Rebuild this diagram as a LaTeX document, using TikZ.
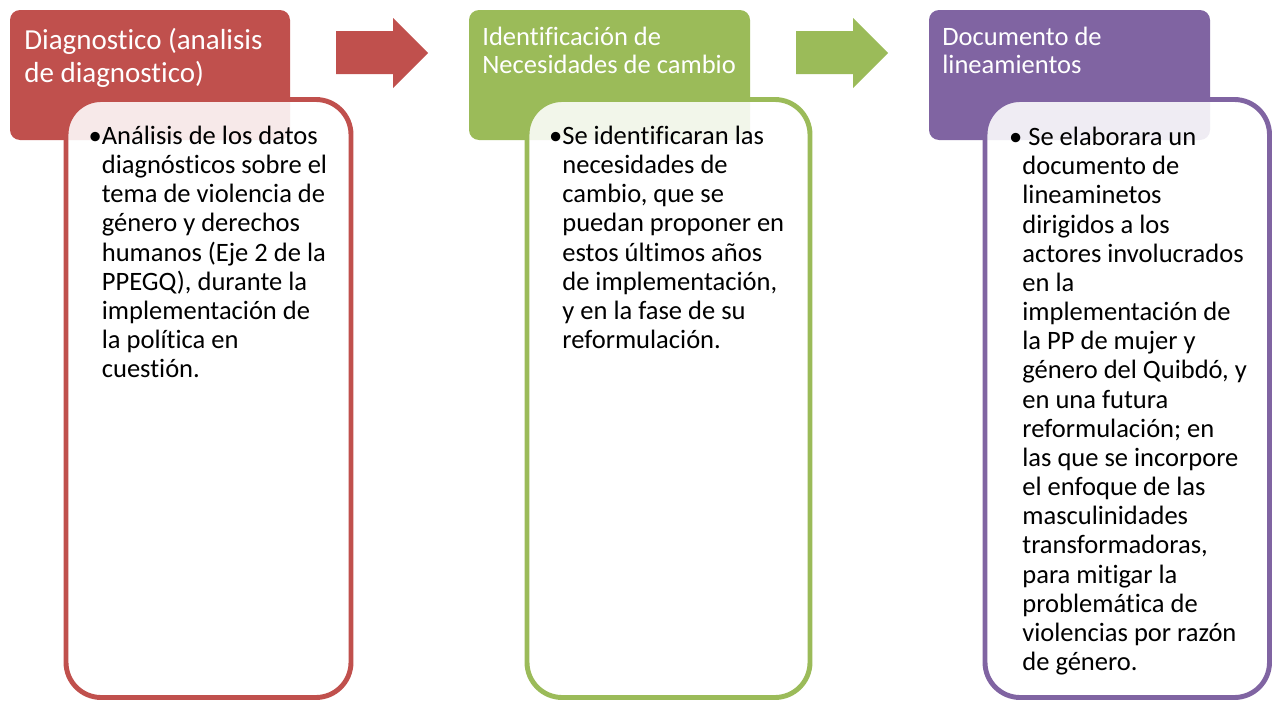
\documentclass[tikz,border=0pt]{standalone}
\usepackage{fontspec}
\setmainfont{Carlito}[Ligatures=NoCommon]
\definecolor{stepred}{HTML}{C0504D}
\definecolor{stepgreen}{HTML}{9BBB59}
\definecolor{steppurple}{HTML}{8064A2}
\newcommand{\headbig}{\fontsize{16.5pt}{18.7pt}\selectfont}
\newcommand{\headsmall}{\fontsize{15.1pt}{15.9pt}\selectfont}
\newcommand{\bodyfont}{\fontsize{15.1pt}{16.6pt}\selectfont}

\begin{document}
\begin{tikzpicture}[x=0.02cm,y=-0.02cm,
  headbox/.style={rounded corners=5.7pt},
  listbox/.style={line width=2.8pt,fill=white,fill opacity=0.88,rounded corners=20pt},
  headtext/.style={anchor=base west,inner sep=0pt,align=left,text=white},
  bodytext/.style={anchor=base west,inner sep=0pt,align=left,font=\bodyfont}]
  \useasboundingbox (0,0) rectangle (1274,700);

  % diagnostico (anchors sit on the last line)
  \fill[headbox,stepred] (10,10) rectangle (290,140);
  \node[headtext,font=\headbig] (head1) at (24,82) {Diagnostico (analisis\\de diagnostico)};
  \draw[listbox,draw=stepred] (66,99.5) rectangle (351,697.5);
  \node[bodytext] (list1) at (101.5,377.7) {\llap{•}Análisis de los datos\\diagnósticos sobre el\\tema de violencia de\\género y derechos\\humanos (Eje 2 de la\\PPEGQ), durante la\\implementación de\\la política en\\cuestión.};
  \fill[stepred] (336,31) -- (393,31) -- (393,18) -- (428,53) -- (393,88) -- (393,74) -- (336,74) -- cycle;

  % necesidades
  \fill[headbox,stepgreen] (469,10) rectangle (750,140);
  \node[headtext,font=\headsmall] (head2) at (482,73) {Identificación de\\Necesidades de cambio};
  \draw[listbox,draw=stepgreen] (527,99.5) rectangle (810,697.5);
  \node[bodytext] (list2) at (562,348.5) {\llap{•}Se identificaran las\\necesidades de\\cambio, que se\\puedan proponer en\\estos últimos años\\de implementación,\\y en la fase de su\\reformulación.};
  \fill[stepgreen] (796,31) -- (853,31) -- (853,18) -- (888,53) -- (853,88) -- (853,74) -- (796,74) -- cycle;

  % lineamientos
  \fill[headbox,steppurple] (929,10) rectangle (1210,140);
  \node[headtext,font=\headsmall] (head3) at (942,73) {Documento de\\lineamientos};
  \draw[listbox,draw=steppurple] (985,99.5) rectangle (1269.5,697.5);
  \node[bodytext] (list3) at (1022,670.5) {\llap{•} Se elaborara un\\documento de\\lineaminetos\\dirigidos a los\\actores involucrados\\en la\\implementación de\\la PP de mujer y\\género del Quibdó, y\\en una futura\\reformulación; en\\las que se incorpore\\el enfoque de las\\masculinidades\\transformadoras,\\para mitigar la\\problemática de\\violencias por razón\\de género.};
\end{tikzpicture}
\end{document}
